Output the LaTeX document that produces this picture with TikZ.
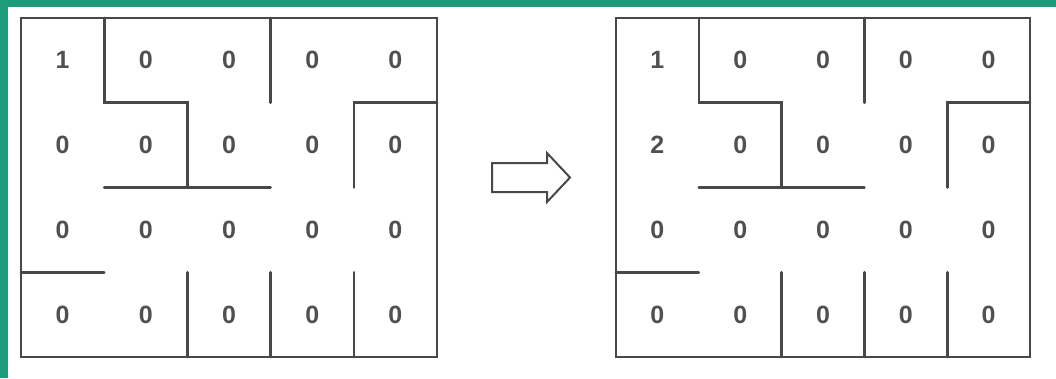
\documentclass[tikz,border=0pt]{standalone}
\usepackage{fontspec}
\setmainfont{Liberation Sans}
\definecolor{framegreen}{RGB}{29,155,122}
\definecolor{ink}{RGB}{72,72,72}
\definecolor{digitink}{RGB}{80,80,80}
\tikzset{
  wall/.style={draw=ink, line width=2.6pt, line cap=round, line join=miter},
  digit/.style={text=digitink, font=\fontsize{25}{28}\selectfont\bfseries, inner sep=0pt},
  bigarrow/.style={draw=ink, line width=2pt, line join=miter, fill=white}
}
\newcommand\mazegrid[2]{%
  \draw[wall] (0,0) rectangle (5,4);
  \draw[wall] (1,0) -- (1,1) -- (2,1) -- (2,2);
  \draw[wall] (1,2) -- (3,2);
  \draw[wall] (3,0) -- (3,1);
  \draw[wall] (5,1) -- (4,1) -- (4,2);
  \draw[wall] (0,3) -- (1,3);
  \draw[wall] (2,3) -- (2,4);
  \draw[wall] (3,3) -- (3,4);
  \draw[wall] (4,3) -- (4,4);
  \foreach \r in {0,...,3}{
    \foreach \c in {0,...,4}{
      \pgfmathtruncatemacro\v{(\c==0 && \r==0) ? 1 : ((\c==0 && \r==1) ? #2 : 0)}
      \node[digit] (#1-\c-\r) at (\c+0.5,\r+0.5) {\v};
    }
  }
}
\begin{document}
\begin{tikzpicture}[x=1pt,y=-1pt]
  \useasboundingbox (0,0) rectangle (1056,378);
  \fill[white] (0,0) rectangle (1056,378);
  \fill[framegreen] (0,0) rectangle (1056,7);
  \fill[framegreen] (0,0) rectangle (8,378);
  % left maze
  \begin{scope}[shift={(21,18)}, x=83.2pt, y=-84.75pt]
    \mazegrid{L}{0}
  \end{scope}
  % right maze
  \begin{scope}[shift={(616,18)}, x=82.8pt, y=-84.75pt]
    \mazegrid{R}{2}
  \end{scope}
  % hollow arrow
  \draw[bigarrow] (492,163) -- (547,163) -- (547,153) -- (570,177.5)
    -- (547,202) -- (547,192) -- (492,192) -- cycle;
\end{tikzpicture}
\end{document}
